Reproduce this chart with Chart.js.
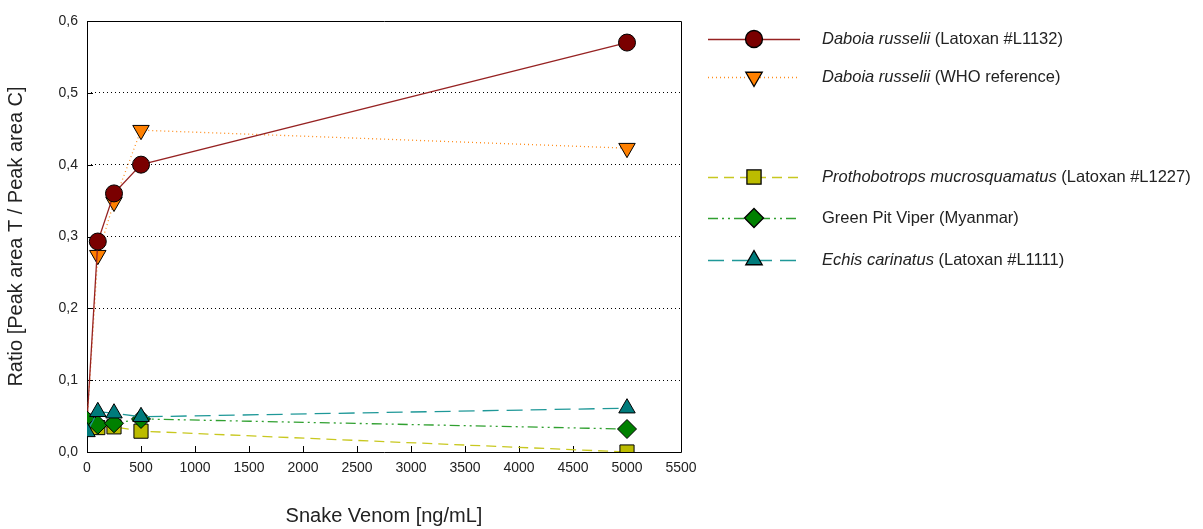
<!DOCTYPE html>
<html>
<head>
<meta charset="utf-8">
<script src="https://cdn.jsdelivr.net/npm/chart.js@4.4.1/dist/chart.umd.min.js"></script>
<style>
  body { margin: 0; background: #fff; }
</style>
</head>
<body>
<canvas id="venomChart" width="1203" height="529"></canvas>
<script>
// concentrations (ng/mL)
const venomDose = [0, 100, 250, 500, 5000];

// ratio peak area T / peak area C
const daboiaL1132 = [0.042, 0.293, 0.360, 0.400, 0.570];
const daboiaWHO = [0.040, 0.274, 0.348, 0.448, 0.423];
const prothobotrops = [0.036, 0.034, 0.035, 0.029, 0.000];
const greenPitViper = [0.044, 0.038, 0.040, 0.046, 0.032];
const echisCarinatus = [0.028, 0.056, 0.054, 0.049, 0.061];

const seriesNames = [
  "Daboia russelii (Latoxan #L1132)",
  "Daboia russelii (WHO reference)",
  "Prothobotrops mucrosquamatus (Latoxan #L1227)",
  "Green Pit Viper (Myanmar)",
  "Echis carinatus (Latoxan #L1111)",
];
// italic part of each legend label
const italicParts = ["Daboia russelii", "Daboia russelii", "Prothobotrops mucrosquamatus", "", "Echis carinatus"];

const yTicks = [0, 0.1, 0.2, 0.3, 0.4, 0.5, 0.6];
const xTicks = [0, 500, 1000, 1500, 2000, 2500, 3000, 3500, 4000, 4500, 5000, 5500];

const FONT = "'Liberation Sans', Arial, sans-serif";

function pts(ys) {
  return venomDose.map((x, i) => ({ x: x, y: ys[i] }));
}

const datasets = [
  {
    label: seriesNames[0],
    data: pts(daboiaL1132),
    order: 3,
    borderColor: "#962222",
    borderWidth: 1.3,
    backgroundColor: "#7a0000",
    pointStyle: "circle",
    pointRadius: 8.5,
    pointBorderColor: "#000",
    pointBorderWidth: 1,
  },
  {
    label: seriesNames[1],
    data: pts(daboiaWHO),
    order: 4,
    borderColor: "#ff8c1a",
    borderWidth: 1.3,
    borderDash: [1, 3],
    backgroundColor: "#ff8000",
    pointStyle: "triangle",
    rotation: 180,
    pointRadius: 9.5,
    pointBorderColor: "#000",
    pointBorderWidth: 1,
  },
  {
    label: seriesNames[2],
    data: pts(prothobotrops),
    order: 2,
    borderColor: "#c8c820",
    borderWidth: 1.3,
    borderDash: [10, 6],
    backgroundColor: "#bcbc00",
    pointStyle: "rect",
    pointRadius: 10,
    pointBorderColor: "#000",
    pointBorderWidth: 1,
  },
  {
    label: seriesNames[3],
    data: pts(greenPitViper),
    order: 1,
    borderColor: "#30a030",
    borderWidth: 1.3,
    borderDash: [10, 4, 2, 4, 2, 4],
    backgroundColor: "#008000",
    pointStyle: "rectRot",
    pointRadius: 9.5,
    pointBorderColor: "#000",
    pointBorderWidth: 1,
  },
  {
    label: seriesNames[4],
    data: pts(echisCarinatus),
    order: 0,
    borderColor: "#1f9898",
    borderWidth: 1.3,
    borderDash: [16, 8],
    backgroundColor: "#007b7b",
    pointStyle: "triangle",
    pointRadius: 9.5,
    pointBorderColor: "#000",
    pointBorderWidth: 1,
  },
];

// frame + inward tick marks
const framePlugin = {
  id: "frame",
  beforeDatasetsDraw(chart) {
    const { ctx, chartArea: a, scales } = chart;
    ctx.save();
    ctx.strokeStyle = "#000";
    ctx.lineWidth = 1;
    ctx.setLineDash([]);
    ctx.beginPath();
    ctx.rect(Math.round(a.left) + 0.5, Math.round(a.top) + 0.5, Math.round(a.right - a.left), Math.round(a.bottom - a.top));
    ctx.stroke();
    ctx.beginPath();
    xTicks.forEach((v) => {
      const x = Math.round(scales.x.getPixelForValue(v)) + 0.5;
      ctx.moveTo(x, a.bottom);
      ctx.lineTo(x, a.bottom - 6);
    });
    yTicks.forEach((v) => {
      const y = Math.round(scales.y.getPixelForValue(v)) + 0.5;
      ctx.moveTo(a.left, y);
      ctx.lineTo(a.left + 6, y);
    });
    ctx.stroke();
    ctx.restore();
  },
};

// legend on the right, with italic species names
const legendPlugin = {
  id: "sideLegend",
  afterDraw(chart) {
    const { ctx } = chart;
    const rows = [39, 77, 177, 218, 260];
    ctx.save();
    datasets.forEach((ds, i) => {
      const y = rows[i];
      ctx.strokeStyle = ds.borderColor;
      ctx.lineWidth = ds.borderWidth;
      ctx.setLineDash(ds.borderDash || []);
      ctx.beginPath();
      ctx.moveTo(708, y + 0.5);
      ctx.lineTo(800, y + 0.5);
      ctx.stroke();
      ctx.setLineDash([]);
      ctx.fillStyle = ds.backgroundColor;
      ctx.strokeStyle = "#000";
      Chart.helpers.drawPoint(ctx, {
        pointStyle: ds.pointStyle,
        radius: ds.pointRadius,
        rotation: ds.rotation || 0,
        borderWidth: 1,
      }, 754, y);

      const full = seriesNames[i];
      const it = italicParts[i];
      let x = 822;
      ctx.fillStyle = "#222";
      ctx.textBaseline = "middle";
      if (it) {
        ctx.font = "italic 16.5px " + FONT;
        ctx.fillText(it, x, y);
        x += ctx.measureText(it).width;
      }
      ctx.font = "16.5px " + FONT;
      ctx.fillText(full.slice(it.length), x, y);
    });
    ctx.restore();
  },
};

new Chart(document.getElementById("venomChart"), {
  type: "line",
  data: { datasets: datasets },
  options: {
    responsive: false,
    animation: false,
    layout: { padding: { top: 21, right: 522, left: 0, bottom: 0 } },
    plugins: {
      legend: { display: false },
      tooltip: { enabled: false },
    },
    scales: {
      x: {
        type: "linear",
        min: 0,
        max: 5500,
        afterBuildTicks: (s) => { s.ticks = xTicks.map((v) => ({ value: v })); },
        afterFit: (s) => { s.height = 77; },
        grid: { display: false, drawTicks: false },
        border: { display: false },
        ticks: {
          padding: 8,
          color: "#222",
          font: { family: FONT, size: 14 },
          callback: (v) => String(v),
        },
        title: {
          display: true,
          text: "Snake Venom [ng/mL]",
          color: "#222",
          font: { family: FONT, size: 20 },
          padding: { top: 0, bottom: 1 },
        },
      },
      y: {
        type: "linear",
        min: 0,
        max: 0.6,
        afterBuildTicks: (s) => { s.ticks = yTicks.map((v) => ({ value: v })); },
        afterFit: (s) => { s.width = 87; },
        grid: {
          drawTicks: false,
          lineWidth: 1,
          color: (c) => (c.tick && (c.tick.value === 0 || c.tick.value === 0.6) ? "rgba(0,0,0,0)" : "#000"),
        },
        border: { display: false, dash: [1, 3] },
        ticks: {
          padding: 9,
          color: "#222",
          font: { family: FONT, size: 14 },
          callback: (v) => v.toFixed(1).replace(".", ","),
        },
        title: {
          display: true,
          text: "Ratio [Peak area T / Peak area C]",
          color: "#222",
          font: { family: FONT, size: 20 },
          padding: { top: 4, bottom: 0 },
        },
      },
    },
  },
  plugins: [framePlugin, legendPlugin],
});
</script>
</body>
</html>
